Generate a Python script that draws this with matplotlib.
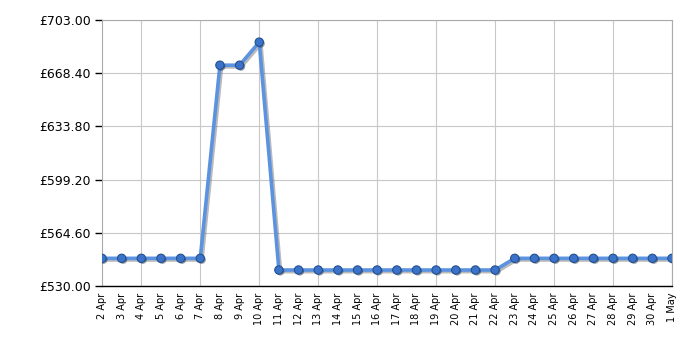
import matplotlib
matplotlib.use("Agg")
import matplotlib.pyplot as plt
import matplotlib.patheffects as pe
import numpy as np

days = ["2 Apr", "3 Apr", "4 Apr", "5 Apr", "6 Apr", "7 Apr", "8 Apr", "9 Apr", "10 Apr",
        "11 Apr", "12 Apr", "13 Apr", "14 Apr", "15 Apr", "16 Apr", "17 Apr", "18 Apr",
        "19 Apr", "20 Apr", "21 Apr", "22 Apr", "23 Apr", "24 Apr", "25 Apr", "26 Apr",
        "27 Apr", "28 Apr", "29 Apr", "30 Apr", "1 May"]
prices = [548.0, 548.0, 548.0, 548.0, 548.0, 548.0, 673.6, 673.6, 688.6,
          540.4, 540.4, 540.4, 540.4, 540.4, 540.4, 540.4, 540.4,
          540.4, 540.4, 540.4, 540.4, 548.0, 548.0, 548.0, 548.0,
          548.0, 548.0, 548.0, 548.0, 548.0]
y_ticks = [530.00, 564.60, 599.20, 633.80, 668.40, 703.00]

fig = plt.figure(figsize=(7, 3.5), dpi=100)
ax = fig.add_axes([102 / 700, 64 / 350, 570 / 700, 266 / 350])

x = np.arange(len(days))
shadow = [pe.SimpleLineShadow(offset=(1.2, -1.2), shadow_color="#666666", alpha=0.45), pe.Normal()]
ax.plot(x, prices, color="#5b93e0", lw=2.6, zorder=3, path_effects=shadow)
ax.scatter(x, prices, s=36, color="#3a73c9", edgecolor="#24508f", linewidth=0.8, zorder=4,
           path_effects=[pe.SimplePatchShadow(offset=(1, -1), alpha=0.45), pe.Normal()])

ax.set_xlim(0, len(days) - 1)
ax.set_ylim(530, 703)
ax.set_yticks(y_ticks)
ax.set_yticklabels([f"£{v:.2f}" for v in y_ticks], fontsize=9)
ax.set_xticks(x)
ax.set_xticklabels(days, rotation=90, fontsize=7)
ax.set_xticks(x[2::3], minor=True)

for xi in x[2::3]:
    ax.axvline(xi, color="#c8c8c8", lw=0.8, zorder=1)
for yv in y_ticks:
    ax.axhline(yv, color="#c8c8c8", lw=0.8, zorder=1)

ax.tick_params(axis="x", which="major", length=0, pad=5)
ax.tick_params(axis="x", which="minor", length=5, width=1, color="black")
ax.tick_params(axis="y", length=5, width=1, color="black", pad=3)

for side in ["top", "right", "left"]:
    ax.spines[side].set_color("#aaaaaa")
    ax.spines[side].set_linewidth(0.8)
ax.spines["bottom"].set_color("black")
ax.spines["bottom"].set_linewidth(1)

fig.savefig("out.png", dpi=100)
